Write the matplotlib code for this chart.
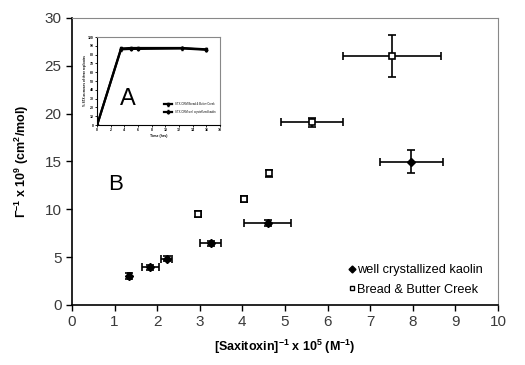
import matplotlib.pyplot as plt
from matplotlib.lines import Line2D
import numpy as np

plt.rcParams['font.family'] = ['Liberation Sans', 'DejaVu Sans']
plt.rcParams['mathtext.default'] = 'regular'

# well crystallized kaolin
kaolin_x = [1.35, 1.84, 2.22, 3.26, 4.59, 7.96]
kaolin_y = [3.0, 3.95, 4.85, 6.45, 8.6, 14.95]
kaolin_xerr = [0.04, 0.2, 0.13, 0.25, 0.55, 0.74]
kaolin_yerr = [0.3, 0.25, 0.3, 0.25, 0.3, 1.2]

# Bread & Butter Creek
creek_x = [2.97, 4.03, 4.63, 5.64, 7.52]
creek_y = [9.55, 11.1, 13.75, 19.1, 26.0]
creek_xerr = [0.06, 0.07, 0.05, 0.73, 1.15]
creek_yerr = [0.3, 0.3, 0.35, 0.45, 2.2]

# inset: uptake vs time
inset_t = [0, 3.5, 5, 6, 12.5, 16]
inset_a = [0, 87, 87.5, 87.5, 87.5, 86]
inset_b = [0, 86, 86.5, 86.5, 87, 85.5]

fig = plt.figure(figsize=(5.25, 3.65), dpi=100)
ax = fig.add_axes([0.137, 0.1644, 0.8116, 0.7863])

ax.errorbar(kaolin_x, kaolin_y, xerr=kaolin_xerr, yerr=kaolin_yerr,
            fmt='D', ms=4.5, color='black', ecolor='black', elinewidth=1.2,
            capsize=3, capthick=1.2)
ax.errorbar(creek_x, creek_y, xerr=creek_xerr, yerr=creek_yerr,
            fmt='s', ms=4.5, mfc='white', mec='black', mew=1.2, color='black',
            ecolor='black', elinewidth=1.2, capsize=3, capthick=1.2)

ax.set_xlim(0, 10)
ax.set_ylim(0, 30)
ax.set_xticks(np.arange(0, 11, 1))
ax.set_yticks(np.arange(0, 31, 5))
ax.tick_params(labelsize=11, length=4, width=1, colors='black',
               labelcolor='#3a3a3a')
ax.spines['top'].set_color('#888888')
ax.spines['right'].set_color('#888888')
ax.spines['left'].set_linewidth(1.2)
ax.spines['bottom'].set_linewidth(1.2)

ax.set_xlabel(r'[Saxitoxin]$^{-1}$ x 10$^5$ (M$^{-1}$)', fontsize=9,
              fontweight='bold', labelpad=6)
ax.set_ylabel(r'$\Gamma^{-1}$ x 10$^9$ (cm$^2$/mol)', fontsize=9,
              fontweight='bold', labelpad=10)

handles = [
    Line2D([], [], ls='none', marker='D', ms=3.5, color='black'),
    Line2D([], [], ls='none', marker='s', ms=3.5, mfc='white', mec='black'),
]
ax.legend(handles, ['well crystallized kaolin', 'Bread & Butter Creek'],
          loc='lower right', bbox_to_anchor=(0.995, -0.013), frameon=False,
          fontsize=9.2, handlelength=0.5, handletextpad=0.2,
          labelspacing=0.6, borderaxespad=0.6)

fig.text(0.205, 0.495, 'B', fontsize=16, ha='left', va='center')

# inset A
ins = fig.add_axes([0.185, 0.6575, 0.234, 0.2411])
ins.errorbar(inset_t, inset_a, yerr=1.5, fmt='-s', ms=1.5, color='black',
             lw=1.6, capsize=1, elinewidth=0.8,
             label='STX-CRM Bread & Butter Creek')
ins.errorbar(inset_t, inset_b, yerr=1.5, fmt='-D', ms=1.5, color='black',
             lw=1.6, capsize=1, elinewidth=0.8,
             label='STX-CRM well crystallized kaolin')
ins.set_xlim(0, 18)
ins.set_ylim(0, 100)
ins.set_xticks(np.arange(0, 19, 2))
ins.set_yticks(np.arange(0, 101, 10))
ins.tick_params(labelsize=2.5, length=1.5, width=0.6, pad=1)
for lbl in ins.get_xticklabels() + ins.get_yticklabels():
    lbl.set_fontweight('bold')
ins.set_xlabel('Time (hrs)', fontsize=2.5, fontweight='bold', labelpad=1)
ins.set_ylabel('% STX as means of three replicates', fontsize=2.2,
               fontweight='bold', labelpad=1)
ins.spines['top'].set_color('#888888')
ins.spines['right'].set_color('#888888')
ins.spines['top'].set_linewidth(0.8)
ins.spines['right'].set_linewidth(0.8)
ins.legend(loc='lower right', bbox_to_anchor=(0.98, 0.1), frameon=False,
           fontsize=2, handlelength=3, labelspacing=1.2)
ins.text(4.5, 30, 'A', fontsize=17, ha='center', va='center')

fig.savefig('out.png', dpi=100)
